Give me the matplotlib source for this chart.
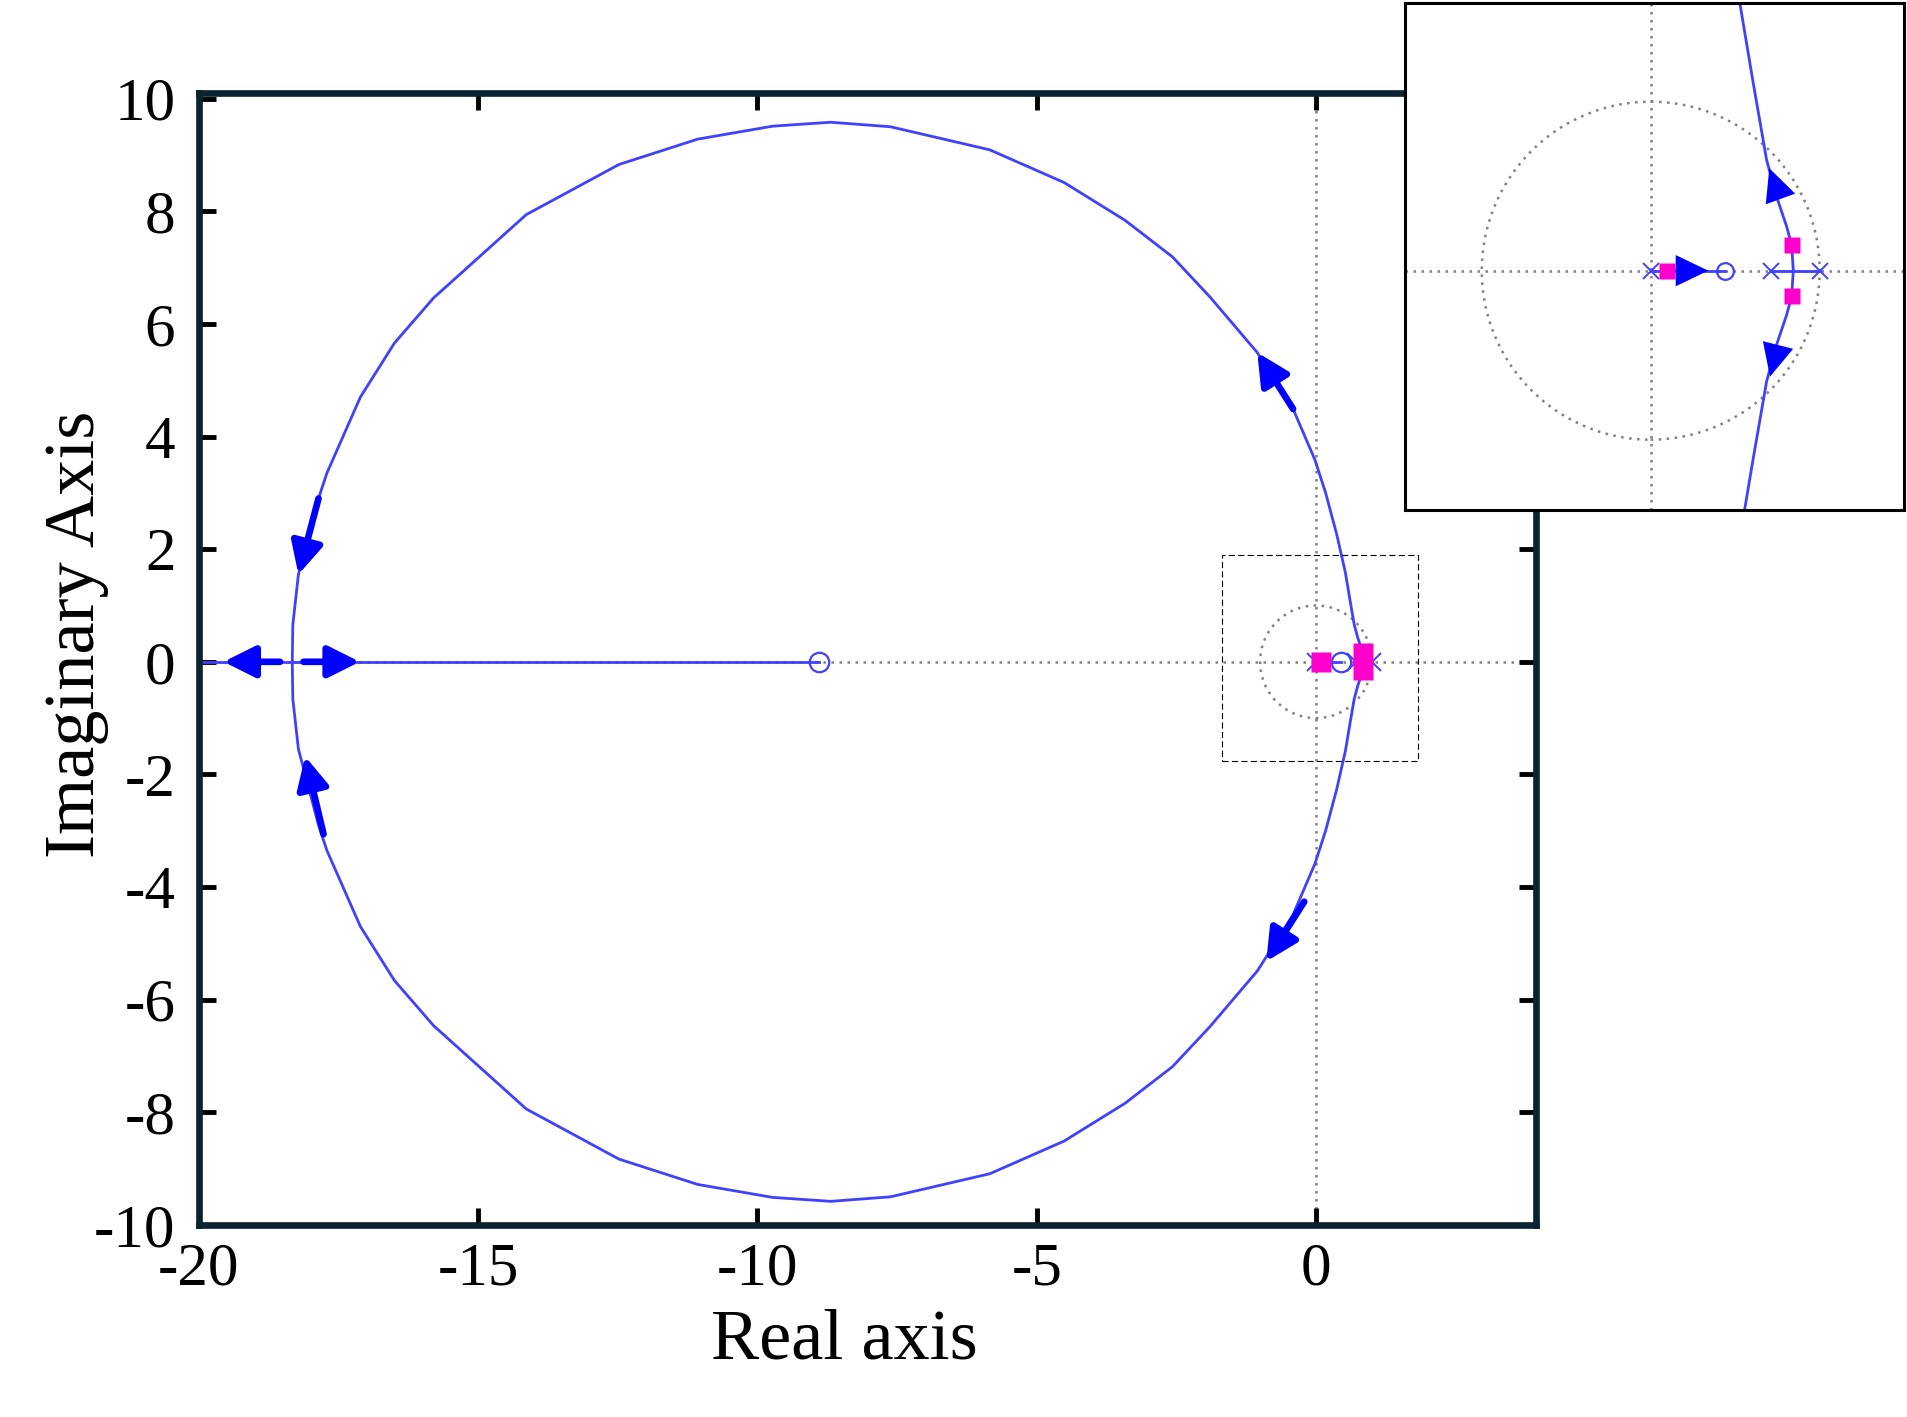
import matplotlib
matplotlib.use('Agg')
import matplotlib.pyplot as plt
import numpy as np
from matplotlib.patches import Circle, Rectangle

plt.rcParams['font.family'] = ['Liberation Serif', 'DejaVu Serif']
plt.rcParams['axes.unicode_minus'] = False

# ---------------- data ----------------
open_loop_poles = [0.0, 0.71, 1.0]
open_loop_zeros = [-8.9, 0.44]
cl_poles_re = [0.095, 0.834, 0.834]
cl_poles_im = [0.0, 0.152, -0.152]

# complex branch (upper half; lower half is its conjugate)
locus_re = [0.844, 0.834, 0.805, 0.745, 0.686, 0.607, 0.528, 0.37, 0.17, -0.02,
            -0.41, -1.05, -1.90, -2.57, -3.42, -4.51, -5.84, -7.62, -8.69, -9.73,
            -11.07, -12.48, -14.14, -15.80, -16.50, -17.11, -17.71, -17.86, -18.22,
            -18.32, -18.33]
locus_im = [0.0, 0.152, 0.26, 0.438, 0.655, 1.109, 1.58, 2.27, 3.01, 3.59,
            4.49, 5.49, 6.48, 7.19, 7.84, 8.51, 9.09, 9.50, 9.58, 9.51,
            9.28, 8.83, 7.94, 6.46, 5.66, 4.70, 3.35, 2.90, 1.55,
            0.66, 0.0]

# real-axis branches
real_branch_left = [-21.0, -8.9]
real_branch_mid = [0.0, 0.44]
real_branch_right = [0.71, 1.0]

# direction arrows, main plot (start -> tip)
main_arrow_re0 = [-17.86, -17.77, -0.41, -0.21, -18.55, -18.13]
main_arrow_im0 = [2.90, -3.06, 4.49, -4.26, 0.0, 0.0]
main_arrow_re1 = [-18.22, -18.10, -1.05, -0.89, -19.56, -17.12]
main_arrow_im1 = [1.55, -1.68, 5.49, -5.32, 0.0, 0.0]

# direction arrows, inset (base -> tip)
inset_arrow_re0 = [0.183, 0.755, 0.740]
inset_arrow_im0 = [0.0, 0.46, -0.493]
inset_arrow_re1 = [0.341, 0.702, 0.706]
inset_arrow_im1 = [0.0, 0.606, -0.627]

zoom_box_re = [-1.68, 1.82]
zoom_box_im = [-1.77, 1.89]

xticks = [-20, -15, -10, -5, 0]
yticks = [-10, -8, -6, -4, -2, 0, 2, 4, 6, 8, 10]

# ---------------- styles ----------------
LINE_C = '#4040ff'
ARROW_C = '#0000ff'
PINK = '#ff00cc'
GRID_C = '#808080'
SPINE_C = '#0b2330'

fig = plt.figure(figsize=(19.07, 14.17), dpi=100)
ax = fig.add_axes([0.10435, 0.1355, 0.7011, 0.7989])


def draw_common(a, lw, ms_x, ms_o, ms_sq, grid_lw):
    dot = (0, (1, 2.2))
    a.axhline(0, color=GRID_C, lw=grid_lw, ls=dot, zorder=1)
    a.axvline(0, color=GRID_C, lw=grid_lw, ls=dot, zorder=1)
    a.add_patch(Circle((0, 0), 1.0, fill=False, ec=GRID_C, lw=grid_lw, ls=dot, zorder=1))
    im = np.array(locus_im)
    a.plot(locus_re, im, color=LINE_C, lw=lw, zorder=2)
    a.plot(locus_re, -im, color=LINE_C, lw=lw, zorder=2)
    for br in (real_branch_left, real_branch_mid, real_branch_right):
        a.plot(br, [0, 0], color=LINE_C, lw=lw, zorder=2)
    a.plot(open_loop_poles, [0] * len(open_loop_poles), 'x', color=LINE_C,
           ms=ms_x, mew=1.4, zorder=3)
    a.plot(open_loop_zeros, [0] * len(open_loop_zeros), 'o', mfc='none', mec=LINE_C,
           ms=ms_o, mew=1.6, zorder=3)
    a.plot(cl_poles_re, cl_poles_im, 's', color=PINK, mec='none', ms=ms_sq, zorder=4)


draw_common(ax, 2.0, 13, 14, 14.4, 1.8)

for x0, y0, x1, y1 in zip(main_arrow_re0, main_arrow_im0, main_arrow_re1, main_arrow_im1):
    ax.annotate('', xy=(x1, y1), xytext=(x0, y0),
                arrowprops=dict(arrowstyle='-|>,head_length=0.8,head_width=0.4',
                                mutation_scale=24, lw=4.8, color=ARROW_C,
                                shrinkA=0, shrinkB=0),
                zorder=5)

ax.add_patch(Rectangle((zoom_box_re[0], zoom_box_im[0]),
                       zoom_box_re[1] - zoom_box_re[0], zoom_box_im[1] - zoom_box_im[0],
                       fill=False, ec='black', lw=0.8, ls=(0, (5.5, 3)), zorder=6))

ax.set_xlim(-20, 3.94)
ax.set_ylim(-10, 10.1)
ax.set_xticks(xticks)
ax.set_yticks(yticks)
ax.minorticks_off()
for s in ax.spines.values():
    s.set_linewidth(4.8)
    s.set_color(SPINE_C)
ax.tick_params(direction='in', length=12, width=3.5, color='black',
               top=True, right=True, labelsize=44)
ax.tick_params(axis='y', pad=17)
ax.tick_params(axis='x', pad=12)

ax.set_xlabel('Real axis', fontsize=52)
ax.set_ylabel('Imaginary Axis', fontsize=52)
ax.xaxis.set_label_coords(0.483, -0.074)
ax.yaxis.set_label_coords(-0.0673, 0.522)

# ---------------- inset ----------------
axin = fig.add_axes([0.7368, 0.6401, 0.2617, 0.3578])
axin.set_facecolor('white')
draw_common(axin, 2.0, 11, 12, 11, 1.8)
for x0, y0, x1, y1 in zip(inset_arrow_re0, inset_arrow_im0, inset_arrow_re1, inset_arrow_im1):
    axin.annotate('', xy=(x1, y1), xytext=(x0, y0),
                  arrowprops=dict(arrowstyle='-|>,head_length=0.94,head_width=0.45',
                                  mutation_scale=25, lw=0, color=ARROW_C,
                                  shrinkA=0, shrinkB=0),
                  zorder=5)
axin.set_xlim(-1.454, 1.50)
axin.set_ylim(-1.416, 1.584)
axin.set_xticks([])
axin.set_yticks([])
for s in axin.spines.values():
    s.set_linewidth(2.2)
    s.set_color('black')

fig.savefig('out.png', dpi=100)
